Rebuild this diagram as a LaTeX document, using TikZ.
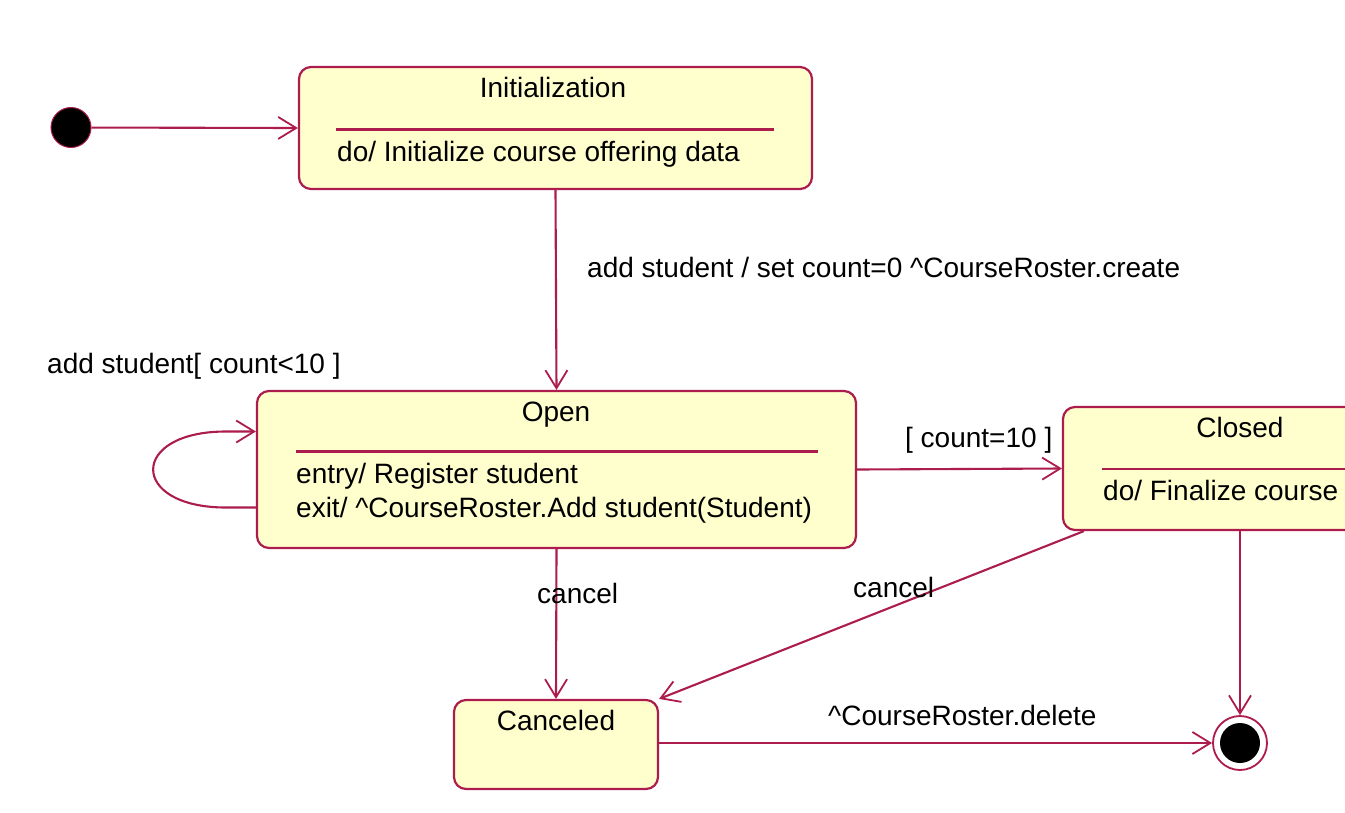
\documentclass[tikz,border=0pt]{standalone}
\usepackage{fontspec}
\setmainfont{Liberation Sans}
\usetikzlibrary{arrows.meta,calc}
\definecolor{umlred}{RGB}{172,28,76}
\definecolor{umlfill}{RGB}{255,255,206}
\begin{document}
\begin{tikzpicture}[x=1pt,y=-1pt,
  statebox/.style={draw=umlred, fill=umlfill, line width=2.2pt, rounded corners=12pt, rectangle, inner sep=0pt},
  txt/.style={inner sep=0pt, anchor=base west, font=\fontsize{28}{33}\selectfont},
  ttl/.style={inner sep=0pt, anchor=base, font=\fontsize{28}{33}\selectfont},
  sepline/.style={draw=umlred, line width=2.2pt},
  trans/.style={draw=umlred, line width=2.1pt, -{Straight Barb[length=18pt,width=22pt,line width=1.8pt]}},
]
\path[use as bounding box, clip] (0,0) rectangle (1345,812);
\fill[white] (0,0) rectangle (1345,812);

% states
\node[statebox, minimum width=513pt, minimum height=122pt] (init) at (555.5,128) {};
\node[statebox, minimum width=599pt, minimum height=157pt] (open) at (556.5,469.5) {};
\node[statebox, minimum width=354pt, minimum height=123pt] (closed) at (1240,468.5) {};
\node[statebox, minimum width=204pt, minimum height=89pt] (canc) at (556,744.5) {};

\node[circle, draw=umlred, fill=black, line width=1pt, minimum size=40pt, inner sep=0pt] (start) at (71,127.5) {};
\node[circle, draw=umlred, fill=white, line width=1.8pt, minimum size=54pt, inner sep=0pt] (final) at (1240,743) {};
\node[circle, fill=black, minimum size=40pt, inner sep=0pt] (finalin) at (final.center) {};

% compartments
\draw[sepline] (336,129.5) -- (774,129.5);
\draw[sepline] (296,451.5) -- (818,451.5);
\draw[sepline] (1102,469) -- (1420,469);

% state texts
\node[ttl] (tinit) at (553,97) {Initialization};
\node[txt] (dinit) at (337,161) {do/ Initialize course offering data};
\node[ttl] (topen) at (556,421.5) {Open};
\node[txt] (entry) at (296,483) {entry/ Register student};
\node[txt] (exit) at (296,517) {exit/ \textasciicircum CourseRoster.Add student(Student)};
\node[ttl] (tclosed) at (1240,437) {Closed};
\node[txt] (dclosed) at (1103,500) {do/ Finalize course};
\node[ttl] (tcanc) at (556,730) {Canceled};

% transitions
\draw[trans] (start) -- (init.west);
\draw[trans] (init.south) -- (open.north);
\draw[trans] ($(open.west)+(0,38)$) -- ($(open.west)+(-30,38)$)
  .. controls +(-97,0) and +(-97,0) .. ($(open.west)+(-30,-38)$) -- ($(open.west)+(0,-38)$);
\draw[trans] (open.east) -- (closed.west);
\draw[trans] (open.south) -- (canc.north);
\draw[trans] ($(closed.south west)+(22,0)$) -- (canc.north east);
\draw[trans] (closed.south) -- (final.north);
\draw[trans] (canc.east |- final.west) -- (final.west);

% labels
\node[txt] (l1) at (587,277) {add student / set count=0 \textasciicircum CourseRoster.create};
\node[txt] (l2) at (47,373) {add student[ count<10 ]};
\node[txt] (l3) at (905,447) {[ count=10 ]};
\node[txt] (l4) at (537,603) {cancel};
\node[txt] (l5) at (853,597) {cancel};
\node[txt] (l6) at (828,725) {\textasciicircum CourseRoster.delete};
\end{tikzpicture}
\end{document}
